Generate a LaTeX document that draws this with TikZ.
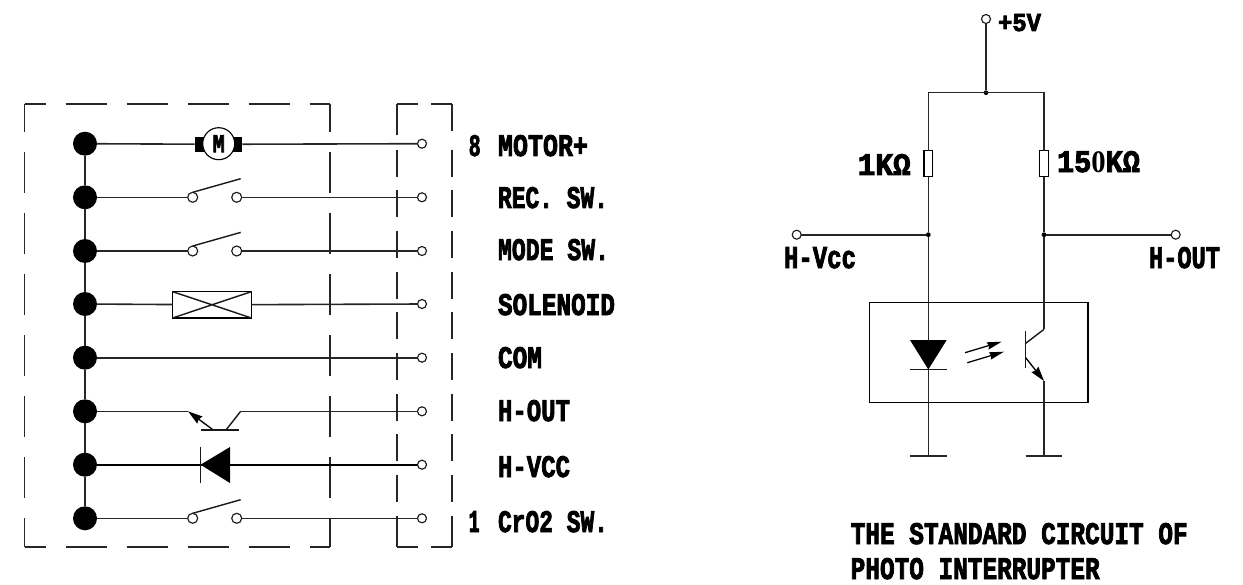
\documentclass[tikz,border=0pt]{standalone}
\usepackage{graphicx}
\usepackage{fontspec}
\usetikzlibrary{arrows.meta}
\newfontfamily\labfont[BoldFeatures={FakeBold=3}]{Liberation Mono}
\newfontfamily\zerofont{Liberation Serif}
\newlength\ux \ux=.75pt
\newcommand{\lab}[2]{\resizebox{#1\ux}{21\ux}{\labfont\bfseries #2}}
\tikzset{
  wire/.style={line width=1.2pt,draw=black!85},
  thin wire/.style={line width=1.05pt,draw=black!90},
  dash long/.style={line width=1.1pt,draw=black!85,dash pattern=on 30.75pt off 15pt},
  dash short/.style={line width=1.1pt,draw=black!85,dash pattern=on 20.25pt off 10.27pt},
  frame line/.style={line width=1.1pt,draw=black!85},
  bigdot/.style={circle,fill=black,draw=none,minimum size=18pt,inner sep=0,outer sep=0},
  term/.style={circle,draw=black!90,fill=white,line width=.85pt,minimum size=6.75pt,inner sep=0,outer sep=0},
  swterm/.style={circle,draw=black!90,fill=white,line width=.85pt,minimum size=7.5pt,inner sep=0,outer sep=0},
  junction/.style={circle,fill=black,draw=none,minimum size=3.6pt,inner sep=0,outer sep=0},
  lbl/.style={anchor=base west,inner sep=0,outer sep=0},
  resistor/.style={rectangle,draw,fill=white,line width=.9pt,minimum width=6.4pt,minimum height=19.5pt,inner sep=0,outer sep=0},
  fillarrow/.style={line width=1pt,-{Stealth[length=11pt,width=6.5pt,inset=1pt]}},
  lightarrow/.style={line width=.95pt,-{Stealth[length=11pt,width=5.5pt,inset=1pt]}},
}
\begin{document}
\begin{tikzpicture}[x=.75pt,y=-.75pt]
\useasboundingbox (0,0) rectangle (1243,585);
% ---- left dashed frames
\draw[dash long,dash phase=15pt] (24.5,104) -- (330,104);
\draw[dash long,dash phase=15pt] (24.5,547) -- (330,547);
\draw[dash long,dash phase=9.75pt] (24.5,104) -- (24.5,547);
\draw[dash long,dash phase=9.75pt] (330,104) -- (330,547);
\draw[frame line] (397,104) -- (418,104) (431,104) -- (452,104);
\draw[frame line] (397,547) -- (418,547) (431,547) -- (452,547);
\draw[frame line] (397,104) -- (397,135);
\draw[frame line] (452,104) -- (452,131);
\draw[dash short] (397,149.5) -- (397,516);
\draw[dash short] (452,149.5) -- (452,516);
\draw[frame line] (397,516) -- (397,547) (452,516) -- (452,547);
% ---- bus dots and terminals
\node[bigdot] (d1) at (85,143.7) {};
\node[bigdot] (d2) at (85,197.3) {};
\node[bigdot] (d3) at (85,251) {};
\node[bigdot] (d4) at (85,304) {};
\node[bigdot] (d5) at (85,357.7) {};
\node[bigdot] (d6) at (85,411.3) {};
\node[bigdot] (d7) at (85,464.7) {};
\node[bigdot] (d8) at (85,518.3) {};
\node[term] (t1) at (422,143.7) {};
\node[term] (t2) at (422,197.3) {};
\node[term] (t3) at (422,251) {};
\node[term] (t4) at (422,304) {};
\node[term] (t5) at (422,357.7) {};
\node[term] (t6) at (422,411.3) {};
\node[term] (t7) at (422,464.7) {};
\node[term] (t8) at (422,518.3) {};
\draw[wire] (d1) -- (d2) -- (d3) -- (d4) -- (d5) -- (d6) -- (d7) -- (d8);
% motor
\node[rectangle,fill=black,minimum width=35.25pt,minimum height=11.25pt,inner sep=0] (mblock) at (218.5,144.3) {};
\node[circle,draw,fill=white,line width=.85pt,minimum size=24pt,inner sep=0,outer sep=0] (motor) at (218.7,143.7) {\resizebox{12\ux}{17\ux}{\labfont\bfseries M}};
\draw[wire] (d1) -- (mblock) (mblock) -- (t1);
% switches
\node[swterm] (s2a) at (192.7,197.3) {};
\node[swterm] (s2b) at (236.7,197.3) {};
\coordinate (s2c) at (240.7,178.7);
\draw[wire] (d2) -- (s2a) (s2b) -- (t2);
\draw[thin wire] (s2a.north) -- (s2c);
\node[swterm] (s3a) at (192.7,251) {};
\node[swterm] (s3b) at (236.7,251) {};
\coordinate (s3c) at (240.7,232.4);
\draw[wire] (d3) -- (s3a) (s3b) -- (t3);
\draw[thin wire] (s3a.north) -- (s3c);
\node[swterm] (s8a) at (192.7,518.3) {};
\node[swterm] (s8b) at (236.7,518.3) {};
\coordinate (s8c) at (240.7,499.7);
\draw[wire] (d8) -- (s8a) (s8b) -- (t8);
\draw[thin wire] (s8a.north) -- (s8c);
% solenoid
\node[rectangle,draw,line width=1.05pt,minimum width=58.95pt,minimum height=19.7pt,inner sep=0,outer sep=0] (sol) at (212,304.8) {};
\draw[thin wire] (sol.north west) -- (sol.south east) (sol.south west) -- (sol.north east);
\draw[wire] (d4) -- (sol) (sol) -- (t4);
% COM
\draw[wire] (d5) -- (t5);
% transistor
\coordinate (qe) at (188,411.3);
\coordinate (qeb) at (213.3,430);
\coordinate (qcb) at (226,430);
\coordinate (qc) at (240.7,411.3);
\coordinate (qba) at (201.3,430);
\coordinate (qbb) at (238.7,430);
\draw[wire] (d6) -- (qe);
\draw[fillarrow] (qeb) -- (qe);
\draw[thin wire] (qba) -- (qbb);
\draw[thin wire] (qcb) -- (qc);
\draw[wire] (qc) -- (t6);
% diode
\coordinate (dk1) at (200.5,446.7);
\coordinate (dk2) at (200.5,482.7);
\coordinate (da1) at (230,447);
\coordinate (da2) at (230,483);
\coordinate (dk) at (200.5,464.7);
\draw[line width=1.4pt] (d7) -- (t7);
\draw[thin wire] (dk1) -- (dk2);
\fill (dk) -- (da1) -- (da2) -- cycle;
% ---- labels left
\node[lbl] (n8) at (468.7,156) {\lab{12}{8}};
\node[lbl] (n1) at (468.7,532) {\lab{11}{1}};
\node[lbl] (l1) at (498,156) {\lab{90}{MOTOR+}};
\node[lbl] (l2) at (498,208) {\lab{110}{REC.~SW.}};
\node[lbl] (l3) at (498,260) {\lab{111}{MODE SW.}};
\node[lbl] (l4) at (498,315) {\lab{117}{SOLENOID}};
\node[lbl] (l5) at (498,368) {\lab{44}{COM}};
\node[lbl] (l6) at (498,421) {\lab{72}{H-OUT}};
\node[lbl] (l7) at (498,477) {\lab{72}{H-VCC}};
\node[lbl] (l8) at (498,532) {\lab{110}{CrO2 SW.}};
% ---- right circuit
\node[term] (vcc) at (986,19) {};
\node[junction] (top) at (986,92.7) {};
\coordinate (tl) at (928.3,92.7);
\coordinate (tr) at (1044,92.7);
\node[resistor] (r1) at (928.3,163.7) {};
\node[resistor] (r2) at (1044,163.7) {};
\node[junction] (jl) at (928.3,234.7) {};
\node[junction] (jr) at (1044,234.7) {};
\node[term] (hv) at (796.7,234.7) {};
\node[term] (ho) at (1175.7,234.7) {};
\draw[wire] (vcc) -- (top);
\draw[wire] (r1) -- (tl) -- (tr) -- (r2);
\draw[wire] (r1) -- (jl);
\draw[wire] (r2) -- (jr);
\draw[wire] (hv) -- (jl);
\draw[wire] (jr) -- (ho);
\node[rectangle,draw,line width=1.05pt,minimum width=164pt,minimum height=75pt,inner sep=0,outer sep=0] (pkg) at (978.65,352.3) {};
% LED
\coordinate (la) at (910,340);
\coordinate (lb) at (946.7,340);
\coordinate (lt) at (928.3,369.5);
\coordinate (lc1) at (910,369.5);
\coordinate (lc2) at (946.7,369.5);
\coordinate (g1) at (928.3,455.7);
\coordinate (g1a) at (910,455.7);
\coordinate (g1b) at (946.7,455.7);
\draw[wire] (jl) -- (g1);
\draw[wire] (g1a) -- (g1b);
\fill (la) -- (lb) -- (lt) -- cycle;
\draw[thin wire] (lc1) -- (lc2);
% light arrows
\coordinate (a1s) at (965,352.7);
\coordinate (a1e) at (1001.7,341.7);
\coordinate (a2s) at (967.3,362.7);
\coordinate (a2e) at (1004,351.7);
\draw[lightarrow] (a1s) -- (a1e);
\draw[lightarrow] (a2s) -- (a2e);
% phototransistor
\coordinate (pc) at (1044,329.3);
\coordinate (pcb) at (1025.7,343.3);
\coordinate (pb1) at (1025.7,331.3);
\coordinate (pb2) at (1025.7,368.3);
\coordinate (peb) at (1025.7,357.7);
\coordinate (pe) at (1044,381);
\coordinate (g2) at (1044,455.7);
\coordinate (g2a) at (1025.7,455.7);
\coordinate (g2b) at (1062.3,455.7);
\draw[wire] (jr) -- (pc);
\draw[thin wire] (pc) -- (pcb);
\draw[thin wire] (pb1) -- (pb2);
\draw[fillarrow] (peb) -- (pe);
\draw[wire] (pe) -- (g2);
\draw[wire] (g2a) -- (g2b);
% ---- labels right
\node[lbl] (v5) at (998,31) {\resizebox{43\ux}{17\ux}{\labfont\bfseries +5V}};
\node[lbl] (k1) at (857.7,175) {\lab{53}{1KΩ}};
\node[lbl] (k150) at (1057,172) {\lab{83}{15{\zerofont\bfseries 0}KΩ}};
\node[lbl] (hvl) at (784,268) {\lab{72}{H-Vcc}};
\node[lbl] (hol) at (1149,268) {\lab{71}{H-OUT}};
\node[lbl] (tt1) at (850.7,544) {\lab{337}{THE STANDARD CIRCUIT OF}};
\node[lbl] (tt2) at (850.7,579) {\lab{249}{PHOTO INTERRUPTER}};
\end{tikzpicture}
\end{document}
